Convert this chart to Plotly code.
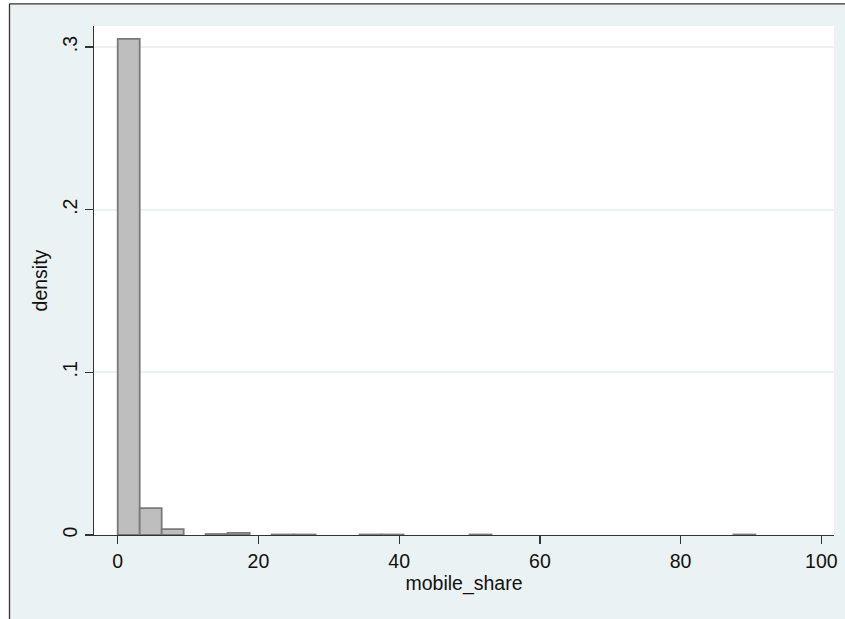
import plotly.graph_objects as go

# ---- data; None = empty bin ----
bin_width = 3.125
bin_starts = [i * bin_width for i in range(32)]
density = [0.305, 0.0165, 0.0036, None, 0.0006, 0.0013, None, 0.0003,
           0.0003, None, None, 0.0003, 0.0003, None, None, None,
           0.0003, None, None, None, None, None, None, None,
           None, None, None, None, 0.0003, None, None, None]
x_ticks = [0, 20, 40, 60, 80, 100]
x_tick_labels = ["0", "20", "40", "60", "80", "100"]
y_ticks = [0, 0.1, 0.2, 0.3]
y_tick_labels = ["0", ".1", ".2", ".3"]

centers = [s + bin_width / 2 for s in bin_starts]

BG = "#EAF2F3"
FONT = "Liberation Sans, Arial, Helvetica, sans-serif"

fig = go.Figure()
fig.add_trace(go.Bar(
    x=centers, y=density, width=bin_width,
    marker=dict(color="#BEBEBE", line=dict(color="#7A7A7A", width=1.8)),
    showlegend=False,
))

W, H = 845, 619
L, R, T, B = 94, 11, 26, 84
pw, ph = W - L - R, H - T - B

def px(xp):
    return (xp - L) / pw

def py(yp):
    return (H - B - yp) / ph

fig.update_layout(
    width=W, height=H,
    margin=dict(l=L, r=R, t=T, b=B, pad=0),
    paper_bgcolor=BG, plot_bgcolor="white",
    bargap=0,
    font=dict(family=FONT, size=20, color="#111111"),
    xaxis=dict(
        range=[-3.37, 101.8], tickvals=x_ticks, ticktext=x_tick_labels,
        ticks="outside", ticklen=8, tickwidth=1.3, tickcolor="#333333",
        showline=True, linecolor="#333333", linewidth=1.3,
        showgrid=False, zeroline=False,
        tickfont=dict(size=19.5),
        title=dict(text="mobile_share", standoff=2, font=dict(size=19.5)),
        automargin=False,
    ),
    yaxis=dict(
        range=[0, 0.3129], tickvals=y_ticks, ticktext=y_tick_labels,
        tickangle=-90,
        ticks="outside", ticklen=8, tickwidth=1.3, tickcolor="#333333",
        showline=True, linecolor="#333333", linewidth=1.3,
        showgrid=True, gridcolor=BG, gridwidth=1.8,
        zeroline=False,
        tickfont=dict(size=19.5),
        title=dict(text="density", standoff=6, font=dict(size=19.5)),
        automargin=False,
    ),
    shapes=[
        # white area outside the graph frame (left and top)
        dict(type="rect", xref="paper", yref="paper",
             x0=px(-20), x1=px(9.5), y0=py(H + 20), y1=py(-20),
             fillcolor="white", line=dict(width=0), layer="above"),
        dict(type="rect", xref="paper", yref="paper",
             x0=px(-20), x1=px(W + 20), y0=py(3.5), y1=py(-20),
             fillcolor="white", line=dict(width=0), layer="above"),
        # frame lines
        dict(type="line", xref="paper", yref="paper",
             x0=px(9.5), x1=px(W + 20), y0=py(3.8), y1=py(3.8),
             line=dict(color="#333333", width=1.3), layer="above"),
        dict(type="line", xref="paper", yref="paper",
             x0=px(9.5), x1=px(9.5), y0=py(3.8), y1=py(H + 20),
             line=dict(color="#333333", width=1.3), layer="above"),
    ],
)

fig.write_html(
    "out.html",
    config={"displayModeBar": False, "staticPlot": True},
    post_script="document.body.style.margin='0';document.body.style.overflow='hidden';",
)
